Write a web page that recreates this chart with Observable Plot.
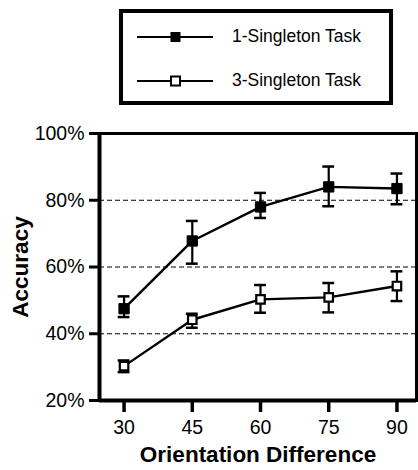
<!DOCTYPE html>
<html>
<head>
<meta charset="utf-8">
<script src="https://cdn.jsdelivr.net/npm/d3@7"></script>
<script src="https://cdn.jsdelivr.net/npm/@observablehq/plot@0.6"></script>
<style>
  body { margin: 0; background: #fff; font-family: "Liberation Sans", Arial, sans-serif; }
  #wrap { width: 418px; height: 470px; position: relative; overflow: hidden; }
  #legend { position: absolute; left: 119px; top: 9px; width: 266px; height: 88px; border: 4px solid #000; background: #fff; }
  .row { position: absolute; left: 14px; display: flex; align-items: center; font-size: 17.5px; color: #000; }
  .row svg { margin-right: 17px; }
  #chart { position: absolute; left: 0; top: 110px; }
</style>
</head>
<body>
<div id="wrap">
  <div id="legend"></div>
  <div id="chart"></div>
</div>
<script>
// Data
const orientations = [30, 45, 60, 75, 90];
const series = ["1-Singleton Task", "3-Singleton Task"];
const oneMean  = [47.5, 67.8, 78.0, 84.0, 83.5];
const oneLow   = [45.0, 61.0, 74.7, 78.2, 78.8];
const oneHigh  = [51.2, 73.8, 82.2, 90.1, 88.0];
const threeMean = [30.3, 44.2, 50.3, 50.9, 54.3];
const threeLow  = [28.5, 41.8, 46.3, 46.4, 49.8];
const threeHigh = [32.0, 46.0, 54.6, 55.2, 58.7];
const yTicks = [20, 40, 60, 80, 100];
const gridTicks = [40, 60, 80];

const rows = [];
orientations.forEach((o, i) => {
  rows.push({task: series[0], x: o, y: oneMean[i], lo: oneLow[i], hi: oneHigh[i]});
  rows.push({task: series[1], x: o, y: threeMean[i], lo: threeLow[i], hi: threeHigh[i]});
});
const s1 = rows.filter(d => d.task === series[0]);
const s3 = rows.filter(d => d.task === series[1]);
const capHalf = 1.3;

const xDomain = [24.6, 94.3];

const chart = Plot.plot({
  width: 418,
  height: 360,
  marginLeft: 99,
  marginRight: 2,
  marginTop: 23,
  marginBottom: 70,
  style: {fontFamily: "Liberation Sans, Arial, sans-serif", color: "#000", background: "#fff"},
  x: {domain: xDomain},
  y: {domain: [20, 100]},
  marks: [
    Plot.ruleY(gridTicks, {stroke: "#000", strokeWidth: 1.2, strokeDasharray: "5,3"}),
    Plot.frame({stroke: "#000", strokeWidth: 3}),
    Plot.ruleX([xDomain[0]], {stroke: "#000", strokeWidth: 4}),
    Plot.ruleY([20], {stroke: "#000", strokeWidth: 4}),
    Plot.axisY({ticks: yTicks, tickFormat: d => d + "%", tickSize: 10, tickPadding: 5, strokeWidth: 3, fontSize: 19.5, label: null}),
    Plot.axisX({ticks: orientations, tickSize: 12, tickPadding: 8, strokeWidth: 3.5, fontSize: 19.5, label: null}),
    Plot.text(["Accuracy"], {frameAnchor: "left", textAnchor: "middle", dx: -79, rotate: -90, fontSize: 22.5, fontWeight: "bold"}),
    Plot.text(["Orientation Difference"], {frameAnchor: "bottom", textAnchor: "middle", dy: 61, fontSize: 22.5, fontWeight: "bold"}),
    Plot.ruleX(rows, {x: "x", y1: "lo", y2: "hi", stroke: "#000", strokeWidth: 2.2}),
    Plot.ruleY(rows, {y: "lo", x1: d => d.x - capHalf, x2: d => d.x + capHalf, stroke: "#000", strokeWidth: 2.5}),
    Plot.ruleY(rows, {y: "hi", x1: d => d.x - capHalf, x2: d => d.x + capHalf, stroke: "#000", strokeWidth: 2.5}),
    Plot.line(s1, {x: "x", y: "y", stroke: "#000", strokeWidth: 2.4}),
    Plot.line(s3, {x: "x", y: "y", stroke: "#000", strokeWidth: 2.4}),
    Plot.dot(s1, {x: "x", y: "y", symbol: "square", r: 5.8, fill: "#000", stroke: "#000", strokeWidth: 1}),
    Plot.dot(s3, {x: "x", y: "y", symbol: "square", r: 4.8, fill: "#fff", stroke: "#000", strokeWidth: 2.2})
  ]
});
document.getElementById("chart").appendChild(chart);

// Legend
const legend = document.getElementById("legend");
series.forEach((name, i) => {
  const row = document.createElement("div");
  row.className = "row";
  row.style.top = (i === 0 ? 13 : 57) + "px";
  const ns = "http://www.w3.org/2000/svg";
  const svg = document.createElementNS(ns, "svg");
  svg.setAttribute("width", 78); svg.setAttribute("height", 14);
  const line = document.createElementNS(ns, "line");
  line.setAttribute("x1", 0); line.setAttribute("x2", 76);
  line.setAttribute("y1", 7); line.setAttribute("y2", 7);
  line.setAttribute("stroke", "#000"); line.setAttribute("stroke-width", 2);
  svg.appendChild(line);
  const rect = document.createElementNS(ns, "rect");
  rect.setAttribute("x", 34); rect.setAttribute("y", 2.5);
  rect.setAttribute("width", 9); rect.setAttribute("height", 9);
  rect.setAttribute("fill", i === 0 ? "#000" : "#fff");
  rect.setAttribute("stroke", "#000"); rect.setAttribute("stroke-width", i === 0 ? 1 : 2);
  svg.appendChild(rect);
  row.appendChild(svg);
  const label = document.createElement("span");
  label.textContent = name;
  row.appendChild(label);
  legend.appendChild(row);
});
</script>
</body>
</html>
